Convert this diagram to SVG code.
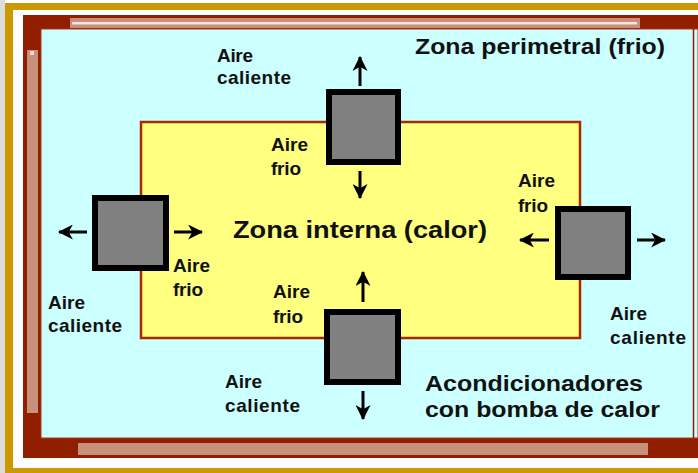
<svg xmlns="http://www.w3.org/2000/svg" width="698" height="473" viewBox="0 0 698 473">
<defs>
<style>
.lbl{font-family:"Liberation Sans",Arial,sans-serif;font-weight:bold;font-size:19px;fill:#111}
.big{font-family:"Liberation Sans",Arial,sans-serif;font-weight:bold;fill:#111}
.unit{fill:#808080;stroke:#000;stroke-width:6}
.arr{stroke:#000;stroke-width:3;fill:none;marker-end:url(#ah)}
</style>
<marker id="ah" viewBox="0 0 14 14" refX="13" refY="7" markerWidth="15" markerHeight="15" markerUnits="userSpaceOnUse" orient="auto">
<path d="M0,0 L14,7 L0,14 L4,7 z" fill="#000"/>
</marker>
</defs>
<g id="frame">
<rect x="0" y="0" width="698" height="473" fill="#ffffff"/>
<rect x="0" y="0" width="5" height="473" fill="#dcdcdc"/>
<rect x="5" y="3" width="693" height="470" fill="#cc9900"/>
<rect x="13" y="10" width="685" height="458" fill="#ffffff"/>
<rect x="23" y="15" width="675" height="443" fill="#921e00"/>
<rect x="70" y="18" width="570" height="10" fill="#c8907b"/>
<rect x="72" y="22" width="565" height="2.5" fill="#f4e4de"/>
<rect x="27" y="50" width="11" height="363" fill="#c8907b"/>
<rect x="30" y="51" width="4" height="4" fill="#f0d8d0"/>
<rect x="78" y="443" width="570" height="12" fill="#c8907b"/>
<rect x="41" y="29" width="657" height="409" fill="#ccffff" stroke="#a83a1a" stroke-width="1"/>
<line x1="693.5" y1="29" x2="693.5" y2="438" stroke="#921e00" stroke-width="1.5"/>
</g>
<g id="zona-interna">
<rect x="141" y="122" width="439" height="216" fill="#ffff80" stroke="#a82a00" stroke-width="2.5"/>
</g>
<g id="texts">
<text class="big" x="415" y="54" font-size="22" textLength="250" lengthAdjust="spacingAndGlyphs">Zona perimetral (frio)</text>
<text class="big" x="233" y="238" font-size="24" textLength="254" lengthAdjust="spacingAndGlyphs">Zona interna (calor)</text>
<text class="big" x="425" y="391" font-size="22" textLength="218" lengthAdjust="spacingAndGlyphs">Acondicionadores</text>
<text class="big" x="425" y="417" font-size="22" textLength="235" lengthAdjust="spacingAndGlyphs">con bomba de calor</text>
</g>
<g id="unit-top">
<rect class="unit" x="329" y="92" width="69" height="70"/>
<text class="lbl" x="217" y="62" textLength="36">Aire</text>
<text class="lbl" x="217" y="84" textLength="74">caliente</text>
<text class="lbl" x="271" y="151" textLength="37">Aire</text>
<text class="lbl" x="271" y="175" textLength="30">frio</text>
</g>
<g id="unit-left">
<rect class="unit" x="95" y="198" width="71" height="70"/>
<text class="lbl" x="173" y="272" textLength="37">Aire</text>
<text class="lbl" x="173" y="296" textLength="30">frio</text>
<text class="lbl" x="48" y="309" textLength="37">Aire</text>
<text class="lbl" x="48" y="332" textLength="74">caliente</text>
</g>
<g id="unit-right">
<rect class="unit" x="558" y="209" width="70" height="68"/>
<text class="lbl" x="518" y="187" textLength="37">Aire</text>
<text class="lbl" x="518" y="212" textLength="30">frio</text>
<text class="lbl" x="610" y="320" textLength="37">Aire</text>
<text class="lbl" x="610" y="344" textLength="76">caliente</text>
</g>
<g id="unit-bottom">
<rect class="unit" x="327" y="312" width="71" height="70"/>
<text class="lbl" x="273" y="298" textLength="37">Aire</text>
<text class="lbl" x="273" y="323" textLength="30">frio</text>
<text class="lbl" x="225" y="388" textLength="37">Aire</text>
<text class="lbl" x="225" y="412" textLength="75">caliente</text>
</g>
<g id="connectors">
<line class="arr" x1="360" y1="86" x2="360" y2="57"/>
<line class="arr" x1="360" y1="171" x2="360" y2="198"/>
<line class="arr" x1="87" y1="232" x2="59" y2="232"/>
<line class="arr" x1="174" y1="232" x2="202" y2="232"/>
<line class="arr" x1="549" y1="240" x2="520" y2="240"/>
<line class="arr" x1="637" y1="240" x2="665" y2="240"/>
<line class="arr" x1="363" y1="302" x2="363" y2="272"/>
<line class="arr" x1="363" y1="391" x2="363" y2="419"/>
</g>
</svg>
